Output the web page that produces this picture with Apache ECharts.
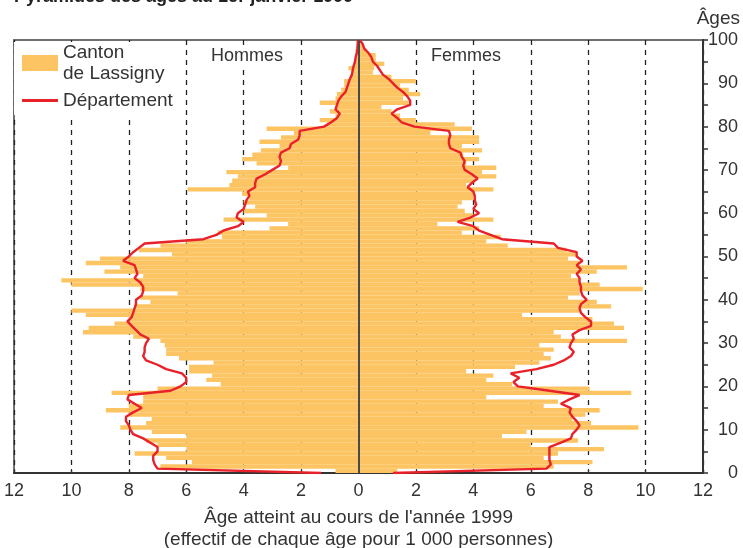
<!DOCTYPE html>
<html>
<head>
<meta charset="utf-8">
<script src="https://cdn.jsdelivr.net/npm/echarts@6/dist/echarts.min.js"></script>
<style>html,body{margin:0;padding:0;background:#fff;}#c{width:743px;height:548px;}</style>
</head>
<body>
<div id="c"></div>
<script>
// Ages 0..100 (index = age)
const menCanton = [0.8,6.9,5.8,6.7,7.8,6.0,7.0,7.4,6.0,7.2, 8.3,7.4,7.2,8.0,8.8,8.0,7.5,7.5,8.6,7.0,
  4.8,5.3,5.1,5.9,5.9,5.05,6.25,6.7,6.7,6.75, 6.9,7.85,9.6,9.4,8.5,8.0,9.5,10.0,7.8,7.25,
  7.6,6.3,7.6,10.0,10.35,7.5,8.85,8.3,9.5,9.0, 6.5,7.65,6.9,6.0,4.75,4.9,3.1,2.45,4.7,3.2,
  4.0,3.6,4.0,3.8,4.05,5.95,4.5,4.4,4.2,4.6, 2.45,3.55,4.05,3.7,3.4,2.75,3.45,2.7,2.25,3.2,
  1.1,1.35,0.8,1.0,0.8,1.35,0.8,0.75,0.6,0.5, 0.5,0.3,0.25,0.35,0.17,0.1,0.1,0.1,0.05,0.05, 0];
const womenCanton = [1.35,6.8,8.15,6.45,6.95,8.55,6.0,7.65,5.0,5.85, 9.75,8.1,7.45,7.9,8.4,6.45,6.95,4.45,9.5,8.05,
  5.35,4.45,4.7,3.75,5.45,6.3,6.7,6.45,6.8,6.3, 9.35,7.05,6.8,9.25,8.9,8.15,5.7,7.7,8.8,8.3,
  7.3,7.7,9.9,8.4,7.7,7.4,8.3,9.35,7.7,7.3, 7.6,7.25,5.2,4.45,4.95,3.6,4.2,2.75,4.7,4.0,
  3.7,3.45,3.6,4.0,4.0,4.7,3.75,4.05,4.8,4.3, 4.8,3.75,4.2,3.65,4.3,3.6,4.2,4.2,2.5,3.95,
  3.35,2.0,1.45,1.15,0.8,1.75,1.55,2.15,1.75,1.45, 2.0,1.15,0.5,0.55,0.9,0.6,0.6,0.3,0.15,0.1, 0];
const menDept = [1.3,7.0,7.1,7.15,7.15,7.0,7.0,7.25,7.5,7.85, 7.95,8.0,8.1,8.1,7.85,7.55,7.8,8.05,8.0,6.55,
  6.2,6.0,6.0,6.15,6.7,7.0,7.4,7.5,7.45,7.45, 7.4,7.3,7.6,7.75,7.9,8.05,7.9,7.85,7.8,7.75,
  7.75,7.55,7.5,7.5,7.6,7.8,7.7,7.75,7.8,8.2, 8.0,7.85,7.65,7.45,5.4,4.95,4.7,4.2,4.0,4.25,
  4.2,4.0,3.95,3.9,3.8,3.85,3.6,3.6,3.55,3.25, 3.0,2.75,2.7,2.75,2.7,2.4,2.35,2.1,2.05,2.05,
  1.2,0.95,0.75,0.65,0.8,0.75,0.7,0.6,0.45,0.4, 0.35,0.3,0.23,0.2,0.17,0.12,0.1,0.06,0.04,0.03, 0.02];
const womenDept = [1.2,6.55,6.7,6.65,6.65,6.65,6.65,7.05,7.4,7.45, 7.6,7.7,7.6,7.45,7.35,7.4,7.05,7.35,7.7,6.65,
  5.55,5.4,5.6,5.3,6.2,6.8,7.15,7.4,7.5,7.35, 7.4,7.5,7.45,7.7,8.1,8.1,7.9,7.75,7.7,7.75,
  7.95,7.8,7.75,7.75,7.7,7.7,7.6,7.75,7.6,7.8, 7.6,7.6,6.95,6.8,5.0,4.6,4.2,4.0,3.45,3.9,
  4.2,4.0,4.1,4.05,4.05,4.0,3.8,3.95,4.15,3.95, 3.7,3.65,3.7,3.6,3.55,3.2,3.15,3.15,3.2,3.15,
  1.95,1.5,1.35,1.15,1.35,1.8,1.8,1.7,1.55,1.35, 1.2,1.05,0.85,0.75,0.65,0.5,0.45,0.35,0.2,0.15, 0.05];

const LABEL_CANTON = 'Canton de Lassigny';
const LABEL_DEPT = 'Département';

const FONT = "'Liberation Sans',Arial,sans-serif";
const TXT = '#333333';
const ORANGE = '#FCC462';
const RED = '#E8212B';

function barRender(params, api) {
  const x = api.value(0), age = api.value(1);
  const p0 = api.coord([0, age]);
  const p1 = api.coord([x, age + 1]);
  return {
    type: 'rect',
    shape: { x: Math.min(p0[0], p1[0]), y: p1[1], width: Math.abs(p1[0] - p0[0]), height: p0[1] - p1[1] },
    style: { fill: api.visual('color') }
  };
}

const chart = echarts.init(document.getElementById('c'), null, { renderer: 'canvas' });
chart.setOption({
  animation: false,
  backgroundColor: '#fff',
  textStyle: { fontFamily: FONT },
  grid: { left: 14, right: 40, top: 40, bottom: 75, containLabel: false, outerBoundsMode: 'none',
    show: true, borderColor: '#707070', borderWidth: 2, backgroundColor: 'transparent' },
  legend: {
    orient: 'vertical', left: 14, top: 42, padding: [0, 8, 4, 8], itemGap: 6,
    itemWidth: 36, itemHeight: 16, backgroundColor: '#fff', symbolKeepAspect: true,
    textStyle: { fontSize: 19, color: TXT, fontFamily: FONT, lineHeight: 21 },
    formatter: n => n === LABEL_CANTON ? 'Canton\nde Lassigny' : n,
    data: [{ name: LABEL_CANTON, icon: 'rect' },
           { name: LABEL_DEPT, icon: 'path://M0,0 L34,0 L34,2.8 L0,2.8 Z' }]
  },
  xAxis: {
    type: 'value', min: -12, max: 12, interval: 2,
    axisLine: { show: true, lineStyle: { color: '#333', width: 2 } },
    axisTick: { show: true, inside: true, length: 4, lineStyle: { color: '#333', width: 1.2 } },
    axisLabel: { fontSize: 18, color: TXT, margin: 9, fontFamily: FONT, showMinLabel: true, showMaxLabel: true, formatter: v => String(Math.abs(v)) },
    splitLine: { show: true, lineStyle: { color: '#222', width: 1.3, type: [5, 5] } },
    name: "Âge atteint au cours de l'année 1999\n(effectif de chaque âge pour 1 000 personnes)",
    nameLocation: 'middle', nameGap: 34,
    nameTextStyle: { fontSize: 19, color: TXT, lineHeight: 22, fontFamily: FONT }
  },
  yAxis: {
    type: 'value', min: 0, max: 100, interval: 5, position: 'right',
    axisLine: { show: true, onZero: false, lineStyle: { color: '#333', width: 2 } },
    axisTick: { show: true, inside: false, length: 5, lineStyle: { color: '#333', width: 1.5 } },
    axisLabel: { fontSize: 18, color: TXT, margin: 35, align: 'right', fontFamily: FONT, formatter: v => (v % 10 === 0 ? String(v) : '') },
    splitLine: { show: false }
  },
  graphic: [
    { type: 'text', left: 14, top: -12, style: { text: 'Pyramides des âges au 1er janvier 1999', font: "bold 18px " + FONT, fill: '#222' } },
    { type: 'text', right: 3, top: 9, style: { text: 'Âges', font: "19px " + FONT, fill: TXT } },
    { type: 'text', left: 207, top: 45, z: 10, style: { text: 'Hommes', font: "18px " + FONT, fill: TXT, backgroundColor: '#fff', padding: [2, 4, 4, 4] } },
    { type: 'text', left: 427, top: 45, z: 10, style: { text: 'Femmes', font: "18px " + FONT, fill: TXT, backgroundColor: '#fff', padding: [2, 4, 4, 4] } }
  ],
  series: [
    { name: LABEL_CANTON, type: 'custom', renderItem: barRender, itemStyle: { color: ORANGE },
      encode: { x: 0, y: 1 }, data: menCanton.map((v, age) => [-v, age]), z: 1 },
    { name: LABEL_CANTON, type: 'custom', renderItem: barRender, itemStyle: { color: ORANGE },
      encode: { x: 0, y: 1 }, data: womenCanton.map((v, age) => [v, age]), z: 1 },
    { name: 'center', type: 'line', data: [], z: 3,
      markLine: { silent: true, symbol: 'none', label: { show: false },
        lineStyle: { color: '#4a4a4a', width: 2, type: 'solid' }, data: [{ xAxis: 0 }] } },
    { name: LABEL_DEPT, type: 'line', symbol: 'none', z: 4, color: RED,
      lineStyle: { color: RED, width: 2.4 }, data: menDept.map((v, age) => [-v, age]) },
    { name: LABEL_DEPT, type: 'line', symbol: 'none', z: 4, color: RED,
      lineStyle: { color: RED, width: 2.4 }, data: womenDept.map((v, age) => [v, age]) }
  ]
});
</script>
</body>
</html>
